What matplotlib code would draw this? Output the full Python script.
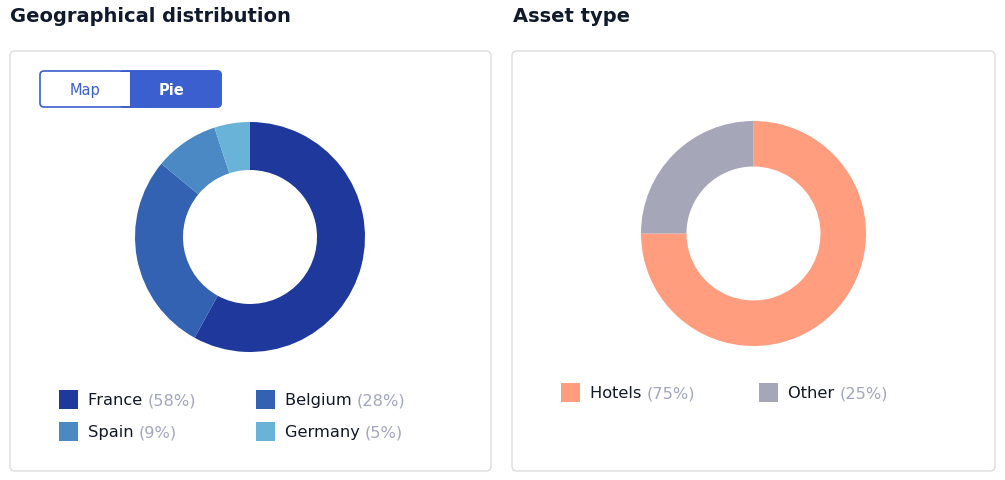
import matplotlib
matplotlib.use("Agg")
import matplotlib.pyplot as plt
from matplotlib.patches import FancyBboxPatch, Rectangle

# ---- data ----
geo_labels = ["France", "Belgium", "Spain", "Germany"]
geo_values = [58, 28, 9, 5]
geo_colors = ["#1e399b", "#3462b2", "#4a89c3", "#69b3d9"]

asset_labels = ["Hotels", "Other"]
asset_values = [75, 25]
asset_colors = ["#ff9d7e", "#a6a6b9"]

titles = ["Geographical distribution", "Asset type"]
toggle_labels = ["Map", "Pie"]

W, H = 1005, 481
fig = plt.figure(figsize=(W / 100, H / 100), dpi=100)
bg = fig.add_axes([0, 0, 1, 1])
bg.set_xlim(0, W)
bg.set_ylim(H, 0)
bg.axis("off")

TXT = "#111827"
GRAY = "#a3a6bf"
BLUE = "#3b5fcf"
FONT = "DejaVu Sans"

# titles
bg.text(10, 17, titles[0], fontsize=14, fontweight="bold", color="#0f1a2c",
        va="center", ha="left", family=FONT)
bg.text(513, 17, titles[1], fontsize=14, fontweight="bold", color="#0f1a2c",
        va="center", ha="left", family=FONT)

# panels
for x0, x1 in [(10, 491), (512, 995)]:
    bg.add_patch(FancyBboxPatch((x0, 52), x1 - x0, 420,
                                boxstyle="round,pad=0,rounding_size=5",
                                fc="white", ec="#dddddd", lw=1))

# toggle
bg.add_patch(FancyBboxPatch((40, 72), 181, 36,
                            boxstyle="round,pad=0,rounding_size=4",
                            fc="white", ec=BLUE, lw=1.2))
bg.add_patch(FancyBboxPatch((120, 72), 101, 36,
                            boxstyle="round,pad=0,rounding_size=4",
                            fc=BLUE, ec=BLUE, lw=1.2))
bg.add_patch(Rectangle((118, 73), 12, 34, fc="white", ec="none"))
bg.text(85, 90.5, toggle_labels[0], fontsize=10.5, color=BLUE, ha="center",
        va="center", family=FONT)
bg.text(172, 90.5, toggle_labels[1], fontsize=10.5, color="white", ha="center",
        va="center", fontweight="bold", family=FONT)


def donut(cx, cy, R, values, colors):
    ax = fig.add_axes([(cx - R) / W, (H - cy - R) / H, 2 * R / W, 2 * R / H])
    ax.pie(values, colors=colors, startangle=90, counterclock=False, radius=1,
           wedgeprops=dict(width=1 - 67 / R, edgecolor="none", linewidth=0))
    ax.set_xlim(-1, 1)
    ax.set_ylim(-1, 1)
    ax.axis("off")
    ax.patch.set_alpha(0)


donut(250, 238, 115, geo_values, geo_colors)
donut(753.5, 234.5, 112.5, asset_values, asset_colors)


def legend_item(x, y, label, value, color):
    bg.add_patch(Rectangle((x, y - 9.5), 19, 19, fc=color, ec="none"))
    t = bg.text(x + 29, y + 1, label + " ", fontsize=11.7, color=TXT,
                ha="left", va="center", family=FONT)
    bg.annotate(f"({value}%)", xy=(1, 0.5), xycoords=t, fontsize=11.7,
                color=GRAY, ha="left", va="center", family=FONT)


geo_pos = [(59, 400), (256, 400), (59, 432), (256, 432)]
for (x, y), lab, v, c in zip(geo_pos, geo_labels, geo_values, geo_colors):
    legend_item(x, y, lab, v, c)

asset_pos = [(561, 393), (759, 393)]
for (x, y), lab, v, c in zip(asset_pos, asset_labels, asset_values, asset_colors):
    legend_item(x, y, lab, v, c)

fig.savefig("out.png", dpi=100, facecolor="white")
